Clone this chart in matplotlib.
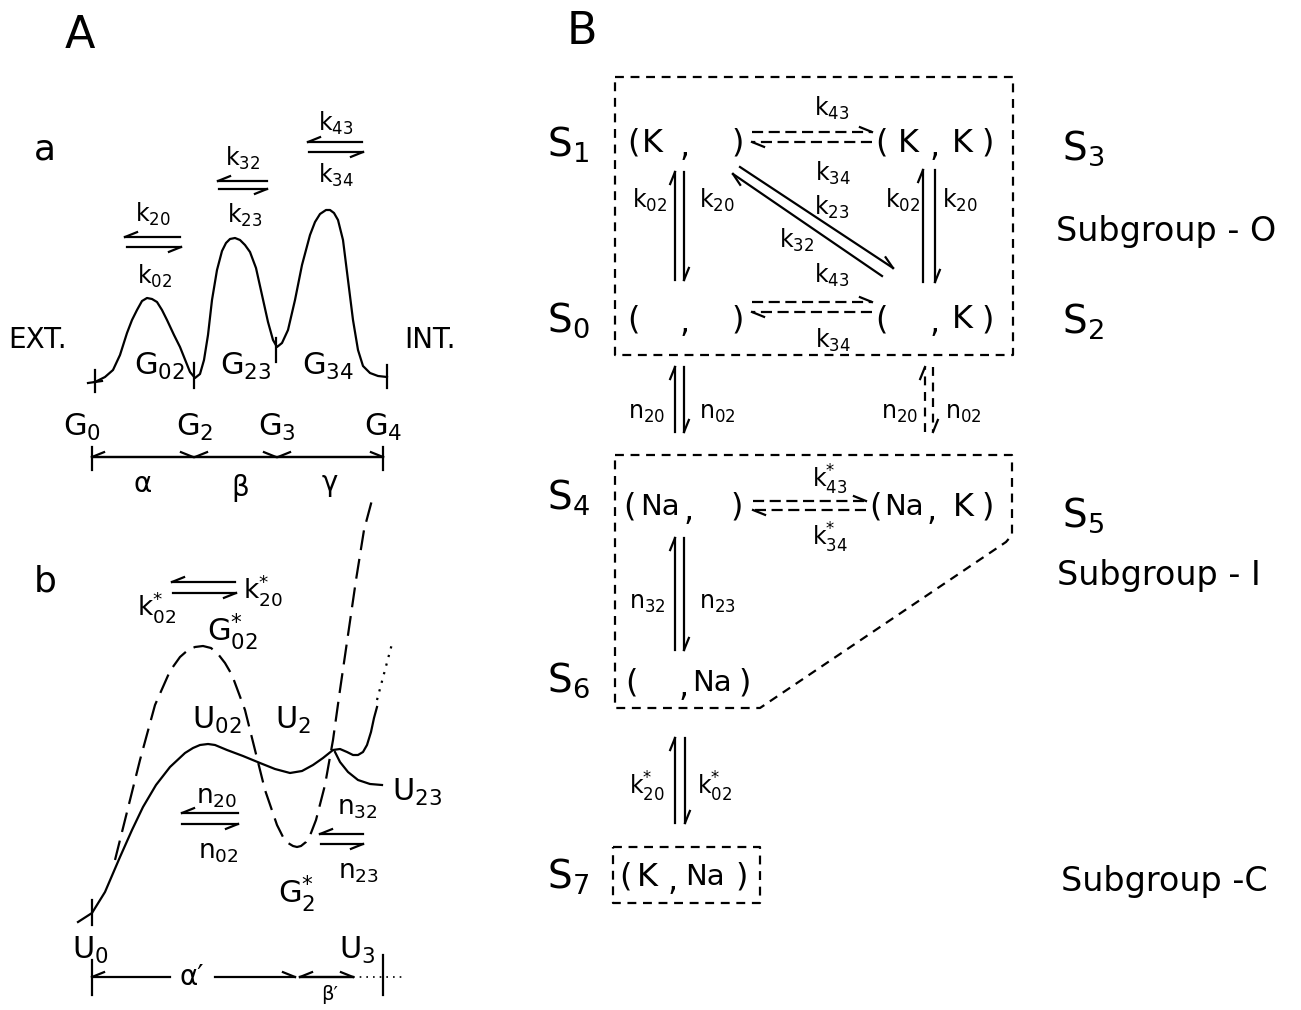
import matplotlib.pyplot as plt
import numpy as np

plt.rcParams['font.family'] = ['DejaVu Sans']
plt.rcParams['mathtext.default'] = 'regular'

# ---- panel A-a: free energy profile with three barriers (pixel coords) ----
curve_a_x = [95, 105, 113, 120, 127, 132, 137, 142, 147, 152, 157, 162, 167, 174, 180,
             186, 190, 195, 200, 204, 208, 212, 217, 222, 226, 230, 235, 240, 245, 250,
             256, 262, 268, 273, 277, 282, 288, 295, 302, 310, 315, 320, 326, 330, 334,
             338, 343, 348, 353, 358, 363, 370, 378, 387]
curve_a_y = [382, 377, 370, 355, 333, 320, 310, 301, 298, 299, 302, 310, 320, 335, 347,
             362, 372, 378, 374, 360, 335, 300, 270, 251, 243, 239, 238, 240, 245, 252,
             268, 295, 322, 340, 347, 343, 330, 300, 265, 235, 222, 214, 210, 210, 213,
             220, 240, 280, 320, 350, 366, 373, 376, 377]
ticks_a_x = [95, 194, 276, 387]
ticks_a_y0 = [370, 363, 338, 365]
ticks_a_y1 = [392, 388, 362, 388]

# ---- panel A-b: solid (U) and dashed (G*) profiles ----
curve_u_x = [78, 92, 105, 120, 132, 143, 156, 170, 185, 193, 200, 208, 215, 227, 243,
             260, 275, 290, 302, 313, 323, 333, 340, 347, 353, 358, 363, 367, 371, 374,
             377]
curve_u_y = [922, 913, 892, 857, 830, 807, 785, 767, 753, 748, 745, 744, 745, 750, 756,
             763, 769, 773, 771, 765, 758, 750, 749, 752, 755, 755, 752, 745, 732, 718,
             707]
dotted_u_x = [377, 381, 385, 389, 393]
dotted_u_y = [700, 685, 670, 655, 640]
curve_g_x = [115, 125, 140, 155, 170, 180, 188, 195, 203, 211, 218, 225, 232, 245, 255,
             265, 277, 283, 288, 293, 297, 301, 306, 311, 316, 325, 333, 340, 348, 356,
             364, 372]
curve_g_y = [860, 820, 760, 705, 671, 657, 650, 647, 646, 648, 654, 663, 675, 710, 750,
             790, 825, 837, 843, 846, 847, 846, 842, 833, 820, 785, 740, 690, 635, 580,
             530, 500]
pointer_x = [335, 340, 348, 358, 370, 382]
pointer_y = [752, 762, 772, 780, 784, 785]

# ---- panel B: dashed boxes around subgroups ----
box0_x = [615, 1013, 1013, 615, 615]
box0_y = [77, 77, 355, 355, 77]
box1_x = [615, 1012, 1012, 1006, 760, 615, 615]
box1_y = [455, 455, 535, 542, 708, 708, 455]
boxc_x = [613, 760, 760, 613, 613]
boxc_y = [847, 847, 903, 903, 847]

fig = plt.figure(figsize=(13.01, 10.10), dpi=100)
ax = fig.add_axes([0, 0, 1, 1])
ax.set_xlim(0, 1301)
ax.set_ylim(1010, 0)
ax.axis('off')

LW = 1.6


def txt(x, y, s, size=17, **kw):
    ax.text(x, y, s, fontsize=size, ha='center', va='center', **kw)


def harpoon(x0, y0, x1, y1, side=1, ls='-', barb=13, lw=LW):
    # line p0 -> p1 with a one-sided barb at p1
    ax.plot([x0, x1], [y0, y1], color='k', lw=lw, ls=ls)
    d = np.hypot(x1 - x0, y1 - y0)
    ux, uy = (x1 - x0) / d, (y1 - y0) / d
    nx, ny = -uy * side, ux * side
    a = np.radians(22)
    bx = x1 - barb * np.cos(a) * ux + barb * np.sin(a) * nx
    by = y1 - barb * np.cos(a) * uy + barb * np.sin(a) * ny
    ax.plot([x1, bx], [y1, by], color='k', lw=lw)


# ================= panel A =================
txt(80, 35, 'A', 32)
txt(582, 32, 'B', 32)
txt(45, 150, 'a', 26)
txt(45, 582, 'b', 26)

ax.plot(curve_a_x, curve_a_y, color='k', lw=LW, solid_joinstyle='round')
for x, y0, y1 in zip(ticks_a_x, ticks_a_y0, ticks_a_y1):
    ax.plot([x, x], [y0, y1], color='k', lw=LW)
ax.plot([88, 102], [383, 381], color='k', lw=LW)

txt(38, 340, 'EXT.', 20)
txt(430, 340, 'INT.', 20)
txt(160, 366, '$G_{02}$', 22)
txt(246, 366, '$G_{23}$', 22)
txt(328, 366, '$G_{34}$', 22)
txt(82, 427, '$G_{0}$', 22)
txt(195, 427, '$G_{2}$', 22)
txt(277, 427, '$G_{3}$', 22)
txt(383, 427, '$G_{4}$', 22)

# rate-constant harpoon pairs
txt(153, 214, '$k_{20}$')
txt(155, 276, '$k_{02}$')
harpoon(180, 237, 125, 237, side=1)
harpoon(127, 247, 181, 247, side=1)
txt(243, 158, '$k_{32}$')
txt(245, 215, '$k_{23}$')
harpoon(267, 181, 218, 181, side=1)
harpoon(219, 189, 267, 189, side=1)
txt(336, 123, '$k_{43}$')
txt(336, 175, '$k_{34}$')
harpoon(362, 142, 308, 142, side=1)
harpoon(309, 152, 363, 152, side=1)

# distance axis
ax.plot([92, 92], [447, 470], color='k', lw=LW)
ax.plot([383, 383], [447, 470], color='k', lw=LW)
for xa, xb in [(92, 193), (195, 276), (278, 383)]:
    harpoon(xb, 457, xa, 457, side=1)
    harpoon(xa, 457, xb, 457, side=-1)
txt(142, 484, r'$\alpha$', 20)
txt(240, 488, r'$\beta$', 20)
txt(330, 485, r'$\gamma$', 20)

# ================= panel b =================
ax.plot(curve_u_x, curve_u_y, color='k', lw=LW, solid_joinstyle='round')
ax.plot(dotted_u_x, dotted_u_y, color='k', lw=LW, ls=(0, (1, 3)))
ax.plot(curve_g_x, curve_g_y, color='k', lw=LW, ls=(0, (9, 4)))
ax.plot(pointer_x, pointer_y, color='k', lw=LW)
ax.plot([92, 92], [900, 925], color='k', lw=LW)

txt(157, 607, '$k^{*}_{02}$', 19)
txt(263, 590, '$k^{*}_{20}$', 19)
harpoon(235, 582, 172, 582, side=1)
harpoon(173, 593, 236, 593, side=1)
txt(233, 632, '$G^{*}_{02}$', 22)
txt(217, 720, '$U_{02}$', 22)
txt(293, 720, '$U_{2}$', 22)
txt(217, 797, '$n_{20}$', 19)
txt(218, 852, '$n_{02}$', 19)
harpoon(238, 813, 182, 813, side=1)
harpoon(182, 824, 238, 824, side=1)
txt(357, 808, '$n_{32}$', 19)
txt(358, 872, '$n_{23}$', 19)
harpoon(363, 834, 320, 834, side=1)
harpoon(321, 844, 363, 844, side=1)
txt(297, 893, '$G^{*}_{2}$', 22)
txt(417, 792, '$U_{23}$', 22)
txt(90, 950, '$U_{0}$', 22)
txt(357, 950, '$U_{3}$', 22)

ax.plot([92, 92], [960, 995], color='k', lw=LW)
ax.plot([383, 383], [955, 995], color='k', lw=LW)
harpoon(170, 977, 92, 977, side=1)
harpoon(215, 977, 295, 977, side=-1)
harpoon(353, 977, 300, 977, side=1)
harpoon(300, 977, 353, 977, side=-1)
ax.plot([353, 403], [977, 977], color='k', lw=1.2, ls=(0, (1, 3)))
txt(192, 977, "\u03b1\u2032", 20)
txt(330, 994, "\u03b2\u2032", 14)

# ================= panel B =================
ax.plot(box0_x, box0_y, color='k', lw=LW, ls=(0, (4, 3)))
ax.plot(box1_x, box1_y, color='k', lw=LW, ls=(0, (4, 3)))
ax.plot(boxc_x, boxc_y, color='k', lw=LW, ls=(0, (4, 3)))

for s, y in [('$S_{1}$', 145), ('$S_{0}$', 320), ('$S_{4}$', 498),
             ('$S_{6}$', 680), ('$S_{7}$', 877)]:
    txt(568, y, s, 28)
for s, y in [('$S_{3}$', 148), ('$S_{2}$', 322), ('$S_{5}$', 515)]:
    txt(1083, y, s, 28)
txt(1166, 232, 'Subgroup - O', 24)
txt(1159, 575, 'Subgroup - I', 24)
txt(1164, 882, 'Subgroup -C', 24)

# state contents
ST = 23
NA = 21
for y in [143, 320]:
    txt(633, y, '(', ST)
    txt(685, y + 4, ',', ST)
    txt(738, y, ')', ST)
    txt(882, y, '(', ST)
    txt(935, y + 4, ',', ST)
    txt(962, y, 'K', ST)
    txt(988, y, ')', ST)
txt(652, 143, 'K', ST)
txt(908, 143, 'K', ST)
txt(630, 507, '(', ST)
txt(660, 507, 'Na', NA)
txt(689, 511, ',', ST)
txt(737, 507, ')', ST)
txt(875, 507, '(', ST)
txt(904, 507, 'Na', NA)
txt(932, 511, ',', ST)
txt(963, 507, 'K', ST)
txt(988, 507, ')', ST)
txt(631, 683, '(', ST)
txt(684, 687, ',', ST)
txt(712, 683, 'Na', NA)
txt(745, 683, ')', ST)
txt(626, 877, '(', ST)
txt(647, 877, 'K', ST)
txt(673, 881, ',', ST)
txt(705, 877, 'Na', NA)
txt(742, 877, ')', ST)

# horizontal dashed exchanges
DS = (0, (5, 2.5))
for yu, yl in [(132, 142), (302, 312)]:
    harpoon(752, yu, 872, yu, side=-1, ls=DS)
    harpoon(872, yl, 752, yl, side=-1, ls=DS)
harpoon(753, 501, 866, 501, side=-1, ls=DS)
harpoon(866, 510, 753, 510, side=-1, ls=DS)
txt(832, 108, '$k_{43}$')
txt(833, 173, '$k_{34}$')
txt(832, 275, '$k_{43}$')
txt(833, 340, '$k_{34}$')
txt(830, 480, '$k^{*}_{43}$')
txt(830, 538, '$k^{*}_{34}$')

# vertical exchanges
for xu, xd, ya, yb in [(675, 684, 280, 172), (923, 935, 282, 170),
                       (675, 684, 432, 367), (675, 684, 650, 538),
                       (675, 685, 823, 738)]:
    harpoon(xu, ya, xu, yb, side=-1)
    harpoon(xd, yb, xd, ya, side=-1)
harpoon(925, 432, 925, 367, side=-1, ls=(0, (4, 3)))
harpoon(933, 367, 933, 432, side=-1, ls=(0, (4, 3)))
txt(650, 200, '$k_{02}$')
txt(717, 200, '$k_{20}$')
txt(903, 200, '$k_{02}$')
txt(960, 200, '$k_{20}$')
txt(647, 413, '$n_{20}$')
txt(717, 413, '$n_{02}$')
txt(900, 413, '$n_{20}$')
txt(963, 413, '$n_{02}$')
txt(647, 603, '$n_{32}$')
txt(717, 603, '$n_{23}$')
txt(647, 787, '$k^{*}_{20}$')
txt(715, 787, '$k^{*}_{02}$')

# diagonal exchange
harpoon(740, 167, 893, 268, side=-1)
harpoon(882, 276, 733, 174, side=-1)
txt(832, 207, '$k_{23}$')
txt(797, 240, '$k_{32}$')

fig.savefig('out.png', dpi=100)
